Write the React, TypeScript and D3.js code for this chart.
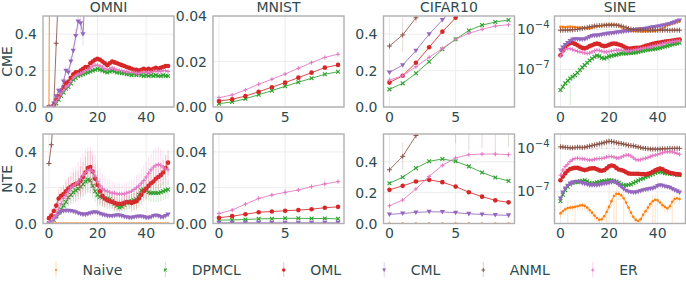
import { useEffect, useRef } from 'react';
import * as d3 from 'd3';

const methods = ['Naive', 'DPMCL', 'OML', 'CML', 'ANML', 'ER'];
const colors = ['#ff7f0e', '#2ca02c', '#d62728', '#9467bd', '#8c564b', '#e377c2'];
const markerKinds = ['point', 'x', 'circle', 'tri', 'plus', 'plusSmall'];
const datasets = ['OMNI', 'MNIST', 'CIFAR10', 'SINE'];
const metrics = ['CME', 'NTE'];

const longTicksX = [0, 20, 40];
const shortTicksX = [0, 5];
const ticksLin = [0, 0.2, 0.4];
const ticksSmall = [0, 0.02, 0.04];
const ticksLog = [-7, -4];

// ---------- OMNI ----------
const omniCmeNaive = [0.0, 2.8];
const omniCmeDPMCL = [
  0.0, 0.0, 0.0, 0.02, 0.04, 0.06, 0.08, 0.1, 0.11, 0.13,
  0.15, 0.16, 0.17, 0.175, 0.18, 0.185, 0.19, 0.195, 0.2, 0.205,
  0.21, 0.205, 0.2, 0.195, 0.19, 0.195, 0.2, 0.195, 0.19, 0.19,
  0.185, 0.185, 0.18, 0.18, 0.175, 0.18, 0.175, 0.18, 0.175, 0.17,
  0.175, 0.17, 0.175, 0.17, 0.175, 0.17, 0.17, 0.175, 0.17, 0.17];
const omniCmeOML = [
  0.0, 0.0, 0.01, 0.04, 0.06, 0.09, 0.11, 0.13, 0.14, 0.16,
  0.18, 0.19, 0.19, 0.2, 0.21, 0.22, 0.22, 0.24, 0.25, 0.26,
  0.265, 0.26, 0.25, 0.24, 0.23, 0.24, 0.25, 0.245, 0.24, 0.235,
  0.23, 0.225, 0.22, 0.215, 0.21, 0.205, 0.205, 0.2, 0.205, 0.21,
  0.205, 0.21, 0.205, 0.21, 0.215, 0.21, 0.215, 0.22, 0.225, 0.225];
const omniCmeCML = [0.0, 0.0, 0.02, 0.06, 0.09, 0.08, 0.14, 0.2, 0.19, 0.25, 0.31, 0.39, 0.47, 0.46, 0.4, 0.65];
const omniCmeErrCML = [0, 0, 0.01, 0.01, 0.02, 0.02, 0.02, 0.03, 0.03, 0.03, 0.04, 0.04, 0.05, 0.05, 0.06, 0.08];
const omniCmeANML = [0.0, 0.0, 0.01, 0.35, 0.66];
const omniCmeER = [
  0.0, 0.0, 0.005, 0.03, 0.05, 0.07, 0.09, 0.11, 0.12, 0.14,
  0.16, 0.17, 0.18, 0.185, 0.19, 0.2, 0.205, 0.215, 0.225, 0.23,
  0.23, 0.225, 0.22, 0.21, 0.205, 0.21, 0.215, 0.21, 0.205, 0.2,
  0.2, 0.195, 0.195, 0.19, 0.19, 0.19, 0.185, 0.185, 0.19, 0.19,
  0.19, 0.19, 0.19, 0.195, 0.195, 0.195, 0.195, 0.2, 0.2, 0.195];

const omniNteNaive = [
  0, 0, 0, 0, 0, 0, 0, 0, 0, 0,
  0, 0, 0, 0, 0, 0, 0, 0, 0, 0,
  0, 0, 0, 0, 0, 0, 0, 0, 0, 0,
  0, 0, 0, 0, 0, 0, 0, 0, 0, 0,
  0, 0, 0, 0, 0, 0, 0, 0, 0, 0];
const omniNteDPMCL = [
  0.0, 0.005, 0.02, 0.04, 0.06, 0.08, 0.1, 0.12, 0.145, 0.16,
  0.175, 0.185, 0.195, 0.205, 0.22, 0.235, 0.245, 0.24, 0.21, 0.18,
  0.16, 0.15, 0.145, 0.14, 0.14, 0.135, 0.125, 0.11, 0.1, 0.09,
  0.095, 0.105, 0.115, 0.12, 0.125, 0.13, 0.135, 0.16, 0.185, 0.19,
  0.185, 0.175, 0.17, 0.17, 0.17, 0.17, 0.175, 0.18, 0.185, 0.19];
const omniNteErrDPMCL = [
  0, 0.005, 0.01, 0.02, 0.03, 0.03, 0.04, 0.04, 0.05, 0.05,
  0.05, 0.06, 0.06, 0.06, 0.07, 0.07, 0.07, 0.07, 0.07, 0.06,
  0.06, 0.05, 0.05, 0.05, 0.04, 0.04, 0.04, 0.04, 0.04, 0.04,
  0.04, 0.04, 0.04, 0.04, 0.04, 0.05, 0.05, 0.05, 0.05, 0.05,
  0.05, 0.05, 0.05, 0.05, 0.05, 0.05, 0.05, 0.05, 0.05, 0.05];
const omniNteOML = [
  0.03, 0.045, 0.07, 0.1, 0.14, 0.155, 0.165, 0.18, 0.195, 0.205,
  0.215, 0.22, 0.225, 0.24, 0.26, 0.285, 0.31, 0.315, 0.29, 0.25,
  0.215, 0.18, 0.155, 0.14, 0.13, 0.125, 0.12, 0.115, 0.11, 0.11,
  0.11, 0.115, 0.12, 0.12, 0.115, 0.12, 0.125, 0.14, 0.16, 0.18,
  0.195, 0.21, 0.225, 0.235, 0.25, 0.26, 0.27, 0.285, 0.31, 0.34];
const omniNteErrOML = [
  0.01, 0.02, 0.03, 0.04, 0.05, 0.05, 0.05, 0.06, 0.06, 0.06,
  0.07, 0.07, 0.07, 0.08, 0.08, 0.09, 0.09, 0.09, 0.09, 0.08,
  0.08, 0.07, 0.06, 0.05, 0.05, 0.04, 0.04, 0.04, 0.04, 0.04,
  0.04, 0.04, 0.04, 0.04, 0.05, 0.05, 0.05, 0.05, 0.06, 0.06,
  0.06, 0.06, 0.07, 0.07, 0.07, 0.07, 0.07, 0.07, 0.07, 0.07];
const omniNteCML = [
  0.0, 0.01, 0.025, 0.04, 0.055, 0.065, 0.07, 0.072, 0.072, 0.07,
  0.068, 0.063, 0.058, 0.053, 0.05, 0.05, 0.053, 0.058, 0.062, 0.063,
  0.06, 0.055, 0.05, 0.046, 0.043, 0.042, 0.042, 0.044, 0.046, 0.045,
  0.042, 0.038, 0.035, 0.033, 0.033, 0.035, 0.038, 0.04, 0.04, 0.037,
  0.033, 0.032, 0.035, 0.042, 0.045, 0.042, 0.036, 0.035, 0.042, 0.05];
const omniNteANML = [0.335, 0.44, 0.62];
const omniNteER = [
  0.0, 0.01, 0.03, 0.05, 0.08, 0.11, 0.14, 0.16, 0.18, 0.2,
  0.21, 0.22, 0.23, 0.25, 0.27, 0.285, 0.295, 0.3, 0.29, 0.265,
  0.235, 0.21, 0.195, 0.185, 0.18, 0.175, 0.17, 0.17, 0.165, 0.165,
  0.165, 0.165, 0.17, 0.175, 0.18, 0.19, 0.2, 0.21, 0.225, 0.24,
  0.26, 0.28, 0.3, 0.315, 0.325, 0.33, 0.325, 0.315, 0.305, 0.3];
const omniNteErrER = [
  0, 0.01, 0.02, 0.03, 0.04, 0.05, 0.06, 0.07, 0.08, 0.09,
  0.1, 0.1, 0.11, 0.12, 0.12, 0.13, 0.13, 0.13, 0.12, 0.12,
  0.11, 0.1, 0.09, 0.08, 0.07, 0.07, 0.06, 0.06, 0.06, 0.06,
  0.06, 0.06, 0.06, 0.06, 0.06, 0.06, 0.07, 0.07, 0.08, 0.08,
  0.08, 0.09, 0.09, 0.1, 0.1, 0.1, 0.09, 0.09, 0.08, 0.08];

// ---------- MNIST ----------
const mnistCmeDPMCL = [0.0015, 0.0022, 0.0036, 0.0054, 0.0072, 0.0091, 0.0109, 0.0126, 0.0144, 0.0155];
const mnistCmeOML = [0.0026, 0.0034, 0.0048, 0.0067, 0.0087, 0.0107, 0.0129, 0.0151, 0.0173, 0.0185];
const mnistCmeER = [0.0041, 0.0053, 0.0075, 0.01, 0.0122, 0.0145, 0.017, 0.0195, 0.0218, 0.0232];
const mnistCmeErrER = [0.0002, 0.0002, 0.0003, 0.0003, 0.0003, 0.0003, 0.0004, 0.0004, 0.0004, 0.0006];

const mnistNteNaive = [0, 0, 0, 0, 0, 0, 0, 0, 0, 0];
const mnistNteDPMCL = [0.0019, 0.002, 0.0022, 0.0026, 0.0027, 0.0029, 0.0029, 0.0028, 0.0028, 0.0026];
const mnistNteOML = [0.0032, 0.0041, 0.0052, 0.0063, 0.0067, 0.0071, 0.0075, 0.008, 0.0088, 0.0093];
const mnistNteCML = [0.0004, 0.0004, 0.0004, 0.0004, 0.0004, 0.0004, 0.0004, 0.0004, 0.0004, 0.0004];
const mnistNteER = [0.0056, 0.0075, 0.0108, 0.014, 0.0159, 0.0174, 0.0187, 0.0206, 0.0221, 0.0234];
const mnistNteErrER = [0.0003, 0.0005, 0.0012, 0.0016, 0.0008, 0.0018, 0.001, 0.0012, 0.0032, 0.0012];

// ---------- CIFAR10 ----------
const cifarCmeDPMCL = [0.097, 0.13, 0.185, 0.249, 0.317, 0.372, 0.42, 0.45, 0.467, 0.478];
const cifarCmeOML = [0.134, 0.172, 0.243, 0.328, 0.414, 0.49, 0.57];
const cifarCmeCML = [0.19, 0.23, 0.31, 0.4, 0.478, 0.56];
const cifarCmeANML = [0.335, 0.396, 0.49, 0.6];
const cifarCmeErrANML = [0.005, 0.095, 0.03, 0.05];
const cifarCmeER = [0.148, 0.172, 0.221, 0.273, 0.322, 0.372, 0.405, 0.427, 0.445, 0.452];

const cifarNteNaive = [0, 0, 0, 0, 0, 0, 0, 0, 0, 0];
const cifarNteDPMCL = [0.261, 0.3, 0.359, 0.403, 0.418, 0.403, 0.37, 0.331, 0.298, 0.276];
const cifarNteOML = [0.218, 0.244, 0.272, 0.283, 0.268, 0.239, 0.203, 0.174, 0.15, 0.137];
const cifarNteCML = [0.059, 0.065, 0.072, 0.076, 0.075, 0.07, 0.063, 0.059, 0.055, 0.053];
const cifarNteANML = [0.348, 0.435, 0.57, 0.66, 0.7, 0.68, 0.7, 0.7, 0.68, 0.7];
const cifarNteErrANML = [0.005, 0.09, 0.02, 0.06, 0.08, 0.16, 0.23, 0.21, 0.245, 0.2];
const cifarNteER = [0.115, 0.152, 0.224, 0.305, 0.377, 0.425, 0.446, 0.45, 0.45, 0.446];

// ---------- SINE (log10 of the error) ----------
const sineCmeNaive = [
  -3.8, -3.8, -3.82, -3.8, -3.78, -3.8, -3.82, -3.83, -3.85, -3.85,
  -3.88, -3.92, -3.93, -3.88, -3.8, -3.76, -3.74, -3.72, -3.68, -3.65,
  -3.63, -3.62, -3.62, -3.64, -3.68, -3.8, -3.98, -4.06, -4.1, -4.12,
  -4.12, -4.13, -4.14, -4.15, -4.15, -4.14, -4.13, -4.12, -4.12, -4.1,
  -4.05, -4.0, -3.9, -3.8, -3.68, -3.62, -3.58, -3.52, -3.45, -3.4];
const sineCmeDPMCL = [
  -8.55, -8.3, -8.05, -7.85, -7.68, -7.55, -7.43, -7.25, -7.05, -6.85,
  -6.68, -6.5, -6.33, -6.18, -6.05, -5.95, -6.02, -6.12, -6.18, -6.1,
  -6.02, -5.97, -5.93, -5.9, -5.85, -5.8, -5.8, -5.8, -5.78, -5.77,
  -5.75, -5.72, -5.68, -5.64, -5.6, -5.55, -5.52, -5.5, -5.48, -5.45,
  -5.43, -5.38, -5.33, -5.28, -5.23, -5.18, -5.13, -5.08, -5.04, -5.0];
const sineCmeRelErrDPMCL = [
  0.4, 0.4, 0.4, 0.5, 0.99, 0.5, 0.4, 0.4, 0.4, 0.4,
  0.3, 0.3, 0.3, 0.3, 0.3, 0.3, 0.3, 0.3, 0.3, 0.4,
  0.7, 0.3, 0.3, 0.3, 0.3, 0.3, 0.3, 0.3, 0.3, 0.3,
  0.3, 0.3, 0.3, 0.3, 0.3, 0.3, 0.3, 0.3, 0.3, 0.3,
  0.3, 0.3, 0.3, 0.3, 0.3, 0.3, 0.3, 0.3, 0.3, 0.3];
const sineCmeOML = [
  -5.93, -5.55, -5.3, -5.12, -5.02, -5.0, -5.08, -5.18, -5.3, -5.38,
  -5.42, -5.35, -5.25, -5.18, -5.1, -5.06, -5.1, -5.2, -5.25, -5.22,
  -5.15, -5.08, -5.05, -5.08, -5.13, -5.18, -5.28, -5.38, -5.43, -5.43,
  -5.4, -5.38, -5.38, -5.35, -5.3, -5.23, -5.18, -5.13, -5.08, -5.04,
  -5.0, -4.97, -4.94, -4.91, -4.88, -4.86, -4.83, -4.8, -4.78, -4.75];
const sineCmeCML = [
  -5.55, -5.35, -5.15, -5.0, -4.85, -4.75, -4.72, -4.72, -4.74, -4.75,
  -4.72, -4.65, -4.55, -4.48, -4.45, -4.45, -4.42, -4.38, -4.35, -4.32,
  -4.3, -4.28, -4.25, -4.22, -4.2, -4.18, -4.15, -4.12, -4.1, -4.07,
  -4.05, -4.03, -4.0, -3.97, -3.95, -3.93, -3.9, -3.87, -3.83, -3.8,
  -3.77, -3.74, -3.7, -3.67, -3.62, -3.58, -3.5, -3.45, -3.38, -3.32];
const sineCmeANML = [
  -4.05, -4.05, -4.04, -4.04, -4.03, -4.02, -4.0, -3.98, -3.95, -3.92,
  -3.88, -3.84, -3.8, -3.77, -3.74, -3.72, -3.7, -3.69, -3.68, -3.67,
  -3.66, -3.66, -3.67, -3.68, -3.7, -3.74, -3.8, -3.86, -3.92, -3.97,
  -4.0, -4.02, -4.03, -4.04, -4.05, -4.05, -4.06, -4.05, -4.04, -4.05,
  -4.06, -4.05, -4.05, -4.04, -4.05, -4.06, -4.05, -4.05, -4.04, -4.05];
const sineCmeER = [
  -6.0, -5.7, -5.5, -5.43, -5.45, -5.5, -5.58, -5.64, -5.68, -5.72,
  -5.76, -5.8, -5.78, -5.68, -5.6, -5.55, -5.58, -5.63, -5.68, -5.68,
  -5.66, -5.62, -5.58, -5.55, -5.55, -5.56, -5.58, -5.6, -5.6, -5.58,
  -5.55, -5.52, -5.48, -5.45, -5.41, -5.38, -5.34, -5.3, -5.26, -5.22,
  -5.18, -5.13, -5.08, -5.03, -4.98, -4.94, -4.91, -4.89, -4.87, -4.85];

const sineNteNaive = [
  -8.5, -8.35, -8.22, -8.13, -8.1, -8.08, -8.05, -8.0, -7.95, -7.93,
  -7.98, -8.1, -8.27, -8.45, -8.65, -8.82, -8.95, -8.9, -8.7, -8.4,
  -8.05, -7.65, -7.3, -7.15, -7.15, -7.25, -7.45, -7.75, -8.1, -8.45,
  -8.75, -8.95, -9.03, -8.9, -8.6, -8.35, -8.1, -7.85, -7.65, -7.55,
  -7.6, -7.75, -7.93, -8.05, -8.15, -8.0, -7.7, -7.5, -7.45, -7.5];
const sineNteRelErrNaive = [
  0.5, 0.5, 0.6, 1.5, 0.5, 0.5, 1.5, 0.5, 0.5, 0.6,
  0.5, 0.5, 0.5, 0.5, 0.5, 0.5, 0.6, 0.5, 0.5, 1.5,
  0.5, 0.6, 1.5, 1.5, 0.6, 0.5, 1.5, 0.5, 0.5, 0.5,
  0.5, 0.5, 0.5, 0.5, 0.5, 0.5, 0.6, 0.5, 1.5, 1.5,
  0.5, 0.5, 0.5, 0.6, 0.5, 0.5, 1.5, 0.6, 0.5, 0.5];
const sineNteDPMCL = [
  -7.65, -7.2, -6.89, -6.65, -6.49, -6.4, -6.34, -6.31, -6.28, -6.24,
  -6.2, -6.28, -6.38, -6.43, -6.4, -6.35, -6.31, -6.28, -6.25, -6.22,
  -6.2, -6.2, -6.24, -6.3, -6.38, -6.48, -6.55, -6.55, -6.52, -6.49,
  -6.4, -6.31, -6.22, -6.14, -6.08, -6.0, -5.92, -5.85, -5.78, -5.7,
  -5.64, -5.62, -5.66, -5.72, -5.74, -5.75, -5.76, -5.8, -5.83, -5.85];
const sineNteOML = [
  -6.2, -5.95, -5.73, -5.55, -5.42, -5.38, -5.35, -5.35, -5.4, -5.46,
  -5.5, -5.46, -5.4, -5.38, -5.38, -5.44, -5.52, -5.55, -5.5, -5.38,
  -5.24, -5.18, -5.22, -5.35, -5.46, -5.5, -5.55, -5.65, -5.73, -5.75,
  -5.75, -5.75, -5.76, -5.77, -5.78, -5.8, -5.76, -5.7, -5.62, -5.52,
  -5.44, -5.4, -5.44, -5.55, -5.62, -5.68, -5.72, -5.75, -5.78, -5.8];
const sineNteCML = [
  -7.46, -7.05, -6.77, -6.58, -6.42, -6.36, -6.32, -6.31, -6.34, -6.4,
  -6.45, -6.5, -6.54, -6.55, -6.55, -6.54, -6.52, -6.48, -6.44, -6.42,
  -6.38, -6.33, -6.31, -6.38, -6.52, -6.66, -6.8, -6.92, -7.0, -7.03,
  -7.05, -7.05, -7.0, -6.94, -6.89, -6.85, -6.82, -6.79, -6.77, -6.7,
  -6.6, -6.55, -6.58, -6.63, -6.66, -6.72, -6.8, -6.89, -6.97, -7.05];
const sineNteANML = [
  -3.89, -3.9, -3.92, -3.94, -3.96, -3.96, -3.94, -3.92, -3.92, -3.94,
  -3.92, -3.88, -3.84, -3.8, -3.76, -3.72, -3.68, -3.64, -3.6, -3.55,
  -3.5, -3.52, -3.56, -3.6, -3.64, -3.66, -3.7, -3.74, -3.78, -3.8,
  -3.82, -3.86, -3.9, -3.94, -3.98, -4.0, -4.02, -4.04, -4.05, -4.05,
  -4.05, -4.04, -4.03, -4.02, -4.02, -4.0, -4.0, -4.0, -3.99, -4.0];
const sineNteRelErrANML = [
  0.3, 0.3, 0.3, 0.3, 0.3, 0.3, 0.3, 0.3, 0.3, 0.3,
  0.3, 0.4, 0.3, 0.6, 0.4, 0.6, 0.5, 0.6, 0.4, 0.7,
  0.5, 0.6, 0.7, 0.4, 0.6, 0.5, 0.3, 0.4, 0.3, 0.3,
  0.3, 0.3, 0.3, 0.3, 0.3, 0.3, 0.3, 0.3, 0.3, 0.3,
  0.3, 0.3, 0.3, 0.3, 0.3, 0.3, 0.3, 0.3, 0.3, 0.3];
const sineNteER = [
  -5.85, -5.5, -5.25, -5.1, -4.9, -4.78, -4.7, -4.68, -4.7, -4.72,
  -4.74, -4.78, -4.8, -4.8, -4.76, -4.72, -4.7, -4.7, -4.66, -4.6,
  -4.56, -4.56, -4.6, -4.66, -4.66, -4.6, -4.52, -4.47, -4.46, -4.52,
  -4.65, -4.78, -4.8, -4.78, -4.72, -4.68, -4.63, -4.56, -4.5, -4.46,
  -4.42, -4.36, -4.3, -4.25, -4.23, -4.23, -4.24, -4.28, -4.34, -4.41];

type Series = { m: number; v: number[]; err?: number[] };
type Panel = {
  row: number; col: number; xDomain: number[]; xTicks: number[];
  log: boolean; yDomain: number[]; yTicks: number[]; fmt: string; series: Series[];
};

const dom50 = [-2.45, 51.45];
const dom10 = [-0.45, 9.45];

const panels: Panel[] = [
  { row: 0, col: 0, xDomain: dom50, xTicks: longTicksX, log: false, yDomain: [0, 0.5], yTicks: ticksLin, fmt: '.1f',
    series: [{ m: 0, v: omniCmeNaive }, { m: 1, v: omniCmeDPMCL }, { m: 2, v: omniCmeOML },
      { m: 3, v: omniCmeCML, err: omniCmeErrCML }, { m: 4, v: omniCmeANML }, { m: 5, v: omniCmeER }] },
  { row: 0, col: 1, xDomain: dom10, xTicks: shortTicksX, log: false, yDomain: [0, 0.04], yTicks: ticksSmall, fmt: '.2f',
    series: [{ m: 1, v: mnistCmeDPMCL }, { m: 2, v: mnistCmeOML }, { m: 5, v: mnistCmeER, err: mnistCmeErrER }] },
  { row: 0, col: 2, xDomain: dom10, xTicks: shortTicksX, log: false, yDomain: [0, 0.5], yTicks: ticksLin, fmt: '.1f',
    series: [{ m: 1, v: cifarCmeDPMCL }, { m: 2, v: cifarCmeOML }, { m: 3, v: cifarCmeCML },
      { m: 4, v: cifarCmeANML, err: cifarCmeErrANML }, { m: 5, v: cifarCmeER }] },
  { row: 0, col: 3, xDomain: dom50, xTicks: longTicksX, log: true, yDomain: [-9.83, -2.98], yTicks: ticksLog, fmt: '',
    series: [{ m: 0, v: sineCmeNaive }, { m: 1, v: sineCmeDPMCL, err: sineCmeRelErrDPMCL }, { m: 2, v: sineCmeOML },
      { m: 3, v: sineCmeCML }, { m: 4, v: sineCmeANML }, { m: 5, v: sineCmeER }] },
  { row: 1, col: 0, xDomain: dom50, xTicks: longTicksX, log: false, yDomain: [0, 0.5], yTicks: ticksLin, fmt: '.1f',
    series: [{ m: 0, v: omniNteNaive }, { m: 1, v: omniNteDPMCL, err: omniNteErrDPMCL }, { m: 2, v: omniNteOML, err: omniNteErrOML },
      { m: 3, v: omniNteCML }, { m: 4, v: omniNteANML }, { m: 5, v: omniNteER, err: omniNteErrER }] },
  { row: 1, col: 1, xDomain: dom10, xTicks: shortTicksX, log: false, yDomain: [0, 0.05], yTicks: ticksSmall, fmt: '.2f',
    series: [{ m: 0, v: mnistNteNaive }, { m: 1, v: mnistNteDPMCL }, { m: 2, v: mnistNteOML },
      { m: 3, v: mnistNteCML }, { m: 5, v: mnistNteER, err: mnistNteErrER }] },
  { row: 1, col: 2, xDomain: dom10, xTicks: shortTicksX, log: false, yDomain: [0, 0.58], yTicks: ticksLin, fmt: '.1f',
    series: [{ m: 0, v: cifarNteNaive }, { m: 1, v: cifarNteDPMCL }, { m: 2, v: cifarNteOML },
      { m: 3, v: cifarNteCML }, { m: 4, v: cifarNteANML, err: cifarNteErrANML }, { m: 5, v: cifarNteER }] },
  { row: 1, col: 3, xDomain: dom50, xTicks: longTicksX, log: true, yDomain: [-9.2, -3.0], yTicks: ticksLog, fmt: '',
    series: [{ m: 0, v: sineNteNaive, err: sineNteRelErrNaive }, { m: 1, v: sineNteDPMCL }, { m: 2, v: sineNteOML },
      { m: 3, v: sineNteCML }, { m: 4, v: sineNteANML, err: sineNteRelErrANML }, { m: 5, v: sineNteER }] },
];

const textColor = '#2f4b4f';
const colLeft = [43, 213, 383.5, 554.5];
const panelW = 131;
const rowTop = [16, 134];
const rowH = [91, 89.5];

function addMarker(g: any, kind: string, x: number, y: number, color: string, k = 1) {
  if (kind === 'point') {
    g.append('circle').attr('cx', x).attr('cy', y).attr('r', 1.3 * k).attr('fill', color);
  } else if (kind === 'circle') {
    g.append('circle').attr('cx', x).attr('cy', y).attr('r', 2.3 * k).attr('fill', color);
  } else if (kind === 'x') {
    const s = 1.9 * k;
    g.append('path')
      .attr('d', `M${x - s},${y - s}L${x + s},${y + s}M${x - s},${y + s}L${x + s},${y - s}`)
      .attr('stroke', color).attr('stroke-width', 1.1).attr('fill', 'none');
  } else if (kind === 'tri') {
    const s = 2.6 * k;
    g.append('path')
      .attr('d', `M${x - s},${y - s * 0.75}L${x + s},${y - s * 0.75}L${x},${y + s}Z`)
      .attr('fill', color);
  } else {
    const s = (kind === 'plus' ? 2.5 : 2.1) * k;
    g.append('path')
      .attr('d', `M${x - s},${y}H${x + s}M${x},${y - s}V${y + s}`)
      .attr('stroke', color).attr('stroke-width', 1).attr('fill', 'none');
  }
}

export default function App() {
  const svgRef = useRef<SVGSVGElement>(null);

  useEffect(() => {
    if (!svgRef.current) return;
    const svg = d3.select(svgRef.current);
    svg.selectAll('*').remove();
    const defs = svg.append('defs');

    panels.forEach((p, k) => {
      const x0 = colLeft[p.col];
      const y0 = rowTop[p.row];
      const h = rowH[p.row];
      const xScale = d3.scaleLinear().domain(p.xDomain).range([x0, x0 + panelW]);
      const yLin = d3.scaleLinear().domain(p.yDomain).range([y0 + h, y0]);
      const yLog = d3.scaleLog()
        .domain([Math.pow(10, p.yDomain[0]), Math.pow(10, p.yDomain[1])])
        .range([y0 + h, y0]);
      const toY = (v: number) => (p.log ? yLog(Math.pow(10, v)) : yLin(v));

      // grid
      const grid = svg.append('g');
      p.xTicks.forEach((t) => {
        grid.append('line').attr('x1', xScale(t)).attr('x2', xScale(t))
          .attr('y1', y0).attr('y2', y0 + h).attr('stroke', '#ebebeb').attr('stroke-width', 0.9);
      });
      p.yTicks.forEach((t) => {
        const yy = toY(t);
        grid.append('line').attr('x1', x0).attr('x2', x0 + panelW)
          .attr('y1', yy).attr('y2', yy).attr('stroke', '#ebebeb').attr('stroke-width', 0.9);
      });

      defs.append('clipPath').attr('id', `clip${k}`)
        .append('rect').attr('x', x0).attr('y', y0).attr('width', panelW).attr('height', h);
      const plot = svg.append('g').attr('clip-path', `url(#clip${k})`);

      p.series.forEach((s) => {
        const color = colors[s.m];
        const g = plot.append('g');
        if (s.err) {
          s.v.forEach((v, i) => {
            const e = s.err![i] ?? 0;
            let yTop: number;
            let yBot: number;
            if (p.log) {
              const lin = Math.pow(10, v);
              yTop = yLog(lin * (1 + e));
              yBot = lin * (1 - e) > 0 ? yLog(lin * (1 - e)) : y0 + h + 5;
            } else {
              yTop = yLin(v + e);
              yBot = yLin(v - e);
            }
            g.append('line').attr('x1', xScale(i)).attr('x2', xScale(i))
              .attr('y1', yTop).attr('y2', yBot)
              .attr('stroke', color).attr('stroke-opacity', 0.22).attr('stroke-width', 1);
          });
        }
        const line = d3.line<number>().x((_, i) => xScale(i)).y((v) => toY(v));
        g.append('path').attr('d', line(s.v)).attr('fill', 'none')
          .attr('stroke', color).attr('stroke-width', 1).attr('stroke-opacity', 0.85);
        s.v.forEach((v, i) => addMarker(g, markerKinds[s.m], xScale(i), toY(v), color));
      });

      // frame
      svg.append('rect').attr('x', x0).attr('y', y0).attr('width', panelW).attr('height', h)
        .attr('fill', 'none').attr('stroke', '#b0b0b0').attr('stroke-width', 1.4);

      // x tick labels
      p.xTicks.forEach((t) => {
        svg.append('text').attr('x', xScale(t)).attr('y', y0 + h + 14.5)
          .attr('text-anchor', 'middle').attr('font-size', 14).attr('fill', textColor).text(`${t}`);
      });
      // y tick labels
      p.yTicks.forEach((t) => {
        if (p.log) {
          const txt = svg.append('text').attr('x', x0 - 5).attr('y', toY(t) + 4.5)
            .attr('text-anchor', 'end').attr('font-size', 14).attr('fill', textColor);
          txt.append('tspan').text('10');
          txt.append('tspan').attr('dy', -6).attr('font-size', 10).text(`\u2212${Math.abs(t)}`);
        } else {
          svg.append('text').attr('x', x0 - 6).attr('y', toY(t) + 5)
            .attr('text-anchor', 'end').attr('font-size', 14).attr('fill', textColor)
            .text(d3.format(p.fmt)(t));
        }
      });

      if (p.row === 0) {
        svg.append('text').attr('x', x0 + panelW / 2).attr('y', 11.5)
          .attr('text-anchor', 'middle').attr('font-size', 14).attr('fill', textColor)
          .text(datasets[p.col]);
      }
      if (p.col === 0) {
        svg.append('text')
          .attr('transform', `translate(12,${y0 + h / 2}) rotate(-90)`)
          .attr('text-anchor', 'middle').attr('font-size', 14).attr('fill', textColor)
          .text(metrics[p.row]);
      }
    });

    // legend
    let cx = 56;
    const ly = 270;
    methods.forEach((m, i) => {
      const g = svg.append('g');
      g.append('line').attr('x1', cx).attr('x2', cx).attr('y1', ly - 8).attr('y2', ly + 7)
        .attr('stroke', colors[i]).attr('stroke-opacity', 0.3).attr('stroke-width', 1);
      addMarker(g, markerKinds[i], cx, ly, colors[i], 0.75);
      const t = g.append('text').attr('x', cx + 26.5).attr('y', ly + 5)
        .attr('font-size', 14).attr('fill', textColor).text(m);
      const tw = (t.node() as SVGTextElement).getComputedTextLength();
      cx = cx + 26.5 + tw + 43;
    });
  }, []);

  return (
    <svg
      ref={svgRef}
      width={686}
      height={284}
      style={{ position: 'absolute', left: 0, top: 0, background: '#fff', fontFamily: '"DejaVu Sans", sans-serif' }}
    />
  );
}
